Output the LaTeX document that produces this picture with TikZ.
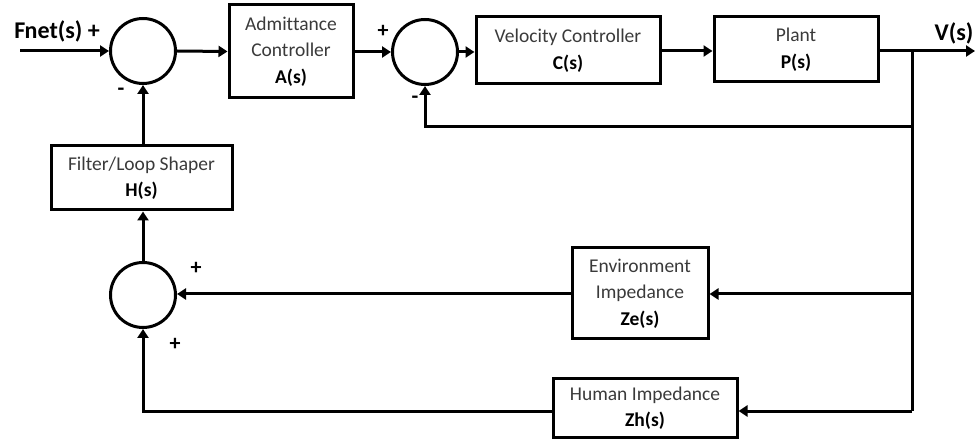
\documentclass[tikz,border=0pt]{standalone}
\usepackage{fontspec}
\setmainfont[Ligatures={NoCommon}]{Carlito}
\usetikzlibrary{arrows.meta}
\definecolor{txtgray}{HTML}{3A3A3A}
\begin{document}
\begin{tikzpicture}[x=1pt,y=-1pt,
  line width=3pt,
  blk/.style={draw, line width=3pt, rectangle, inner sep=0pt, align=center, font=\fontsize{19.5}{26.5}\selectfont, text=txtgray},
  sumc/.style={draw, circle, minimum size=65pt, inner sep=0pt},
  arr/.style={-{Triangle[length=9pt,width=11pt]}},
  sig/.style={font=\bfseries\fontsize{22}{23}\selectfont, inner sep=0pt},
  big/.style={font=\bfseries\fontsize{24}{28}\selectfont, inner sep=0pt}]
\useasboundingbox (0,0) rectangle (975,446);
% sum junctions
\node[sumc] (c1) at (143,51) {};
\node[sumc] (c2) at (425,52) {};
\node[sumc] (c3) at (143,295) {};
% blocks
\node[blk, minimum width=124pt, minimum height=93pt] (adm) at (291,51.5) {Admittance\\Controller\\\textbf{\color{black}A(s)}};
\node[blk, minimum width=184pt, minimum height=67pt] (vel) at (568,50.5) {Velocity Controller\\\textbf{\color{black}C(s)}};
\node[blk, minimum width=164pt, minimum height=65pt] (plant) at (796,49.5) {Plant\\\textbf{\color{black}P(s)}};
\node[blk, minimum width=181pt, minimum height=64pt] (filt) at (141.5,178) {Filter/Loop Shaper\\\textbf{\color{black}H(s)}};
\node[blk, minimum width=136pt, minimum height=91pt] (env) at (640,293.5) {Environment\\Impedance\\\textbf{\color{black}Ze(s)}};
\node[blk, minimum width=184pt, minimum height=58pt] (hum) at (645,408) {Human Impedance\\\textbf{\color{black}Zh(s)}};
% coordinates
\coordinate (in) at (20,51);
\coordinate (out) at (975,51);
\coordinate (br) at (912,51);
\coordinate (fb1) at (912,127);
\coordinate (fe) at (912,294);
\coordinate (fh) at (912,411);
% labels
\node[big] (fnet) at (57,31) {Fnet(s) +};
\node[big] (vs) at (954,33) {V(s)};
\node[sig] (m1) at (121,92) {-};
\node[sig] (p2) at (383,31) {+};
\node[sig] (m2) at (415,100) {-};
\node[sig] (p3a) at (196,268) {+};
\node[sig] (p3b) at (175,344) {+};
% connectors
\draw[arr] (in) -- (c1.west);
\draw[arr] (c1.east) -- (adm.west);
\draw[arr] (adm.east |- c2.west) -- (c2.west);
\draw[arr] (c2.east) -- (vel.west |- c2.east);
\draw[arr] (vel.east |- br) -- (plant.west |- br);
\draw[arr] (plant.east |- br) -- (out);
\draw (br) -- (fh);
\draw[arr] (fb1) -| (c2.south);
\draw[arr] (fe) -- (env.east |- fe);
\draw[arr] (env.west |- fe) -- (c3.east |- fe);
\draw[arr] (fh) -- (hum.east |- fh);
\draw[arr] (hum.west |- fh) -| (c3.south);
\draw[arr] (c3.north) -- (filt.south -| c3.north);
\draw[arr] (filt.north -| c1.south) -- (c1.south);
\end{tikzpicture}
\end{document}
